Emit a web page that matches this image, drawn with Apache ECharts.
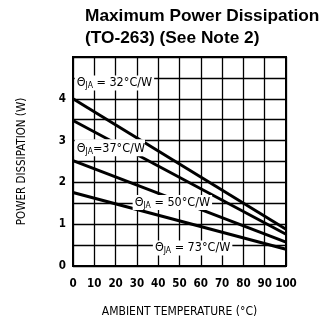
<!DOCTYPE html>
<html>
<head>
<meta charset="utf-8">
<script src="https://cdn.jsdelivr.net/npm/echarts@6/dist/echarts.min.js"></script>
<style>html,body{margin:0;padding:0;background:#fff}#c{width:334px;height:323px}</style>
</head>
<body>
<div id="c"></div>
<script>
// Data
const temps = [0, 100];                 // ambient temperature (°C) endpoints
const theta32 = [4.00, 0.88];           // power dissipation (W), θJA = 32°C/W
const theta37 = [3.48, 0.76];           // θJA = 37°C/W
const theta50 = [2.52, 0.57];           // θJA = 50°C/W
const theta73 = [1.76, 0.40];           // θJA = 73°C/W
const seriesNames = ['32°C/W', '37°C/W', '50°C/W', '73°C/W'];
const xTicks = [0, 10, 20, 30, 40, 50, 60, 70, 80, 90, 100];
const yTickLabels = [0, 1, 2, 3, 4];

const FONT = '"DejaVu Sans Condensed", "DejaVu Sans", sans-serif';
const pairs = vals => temps.map((t, i) => [t, vals[i]]);

const rich = {
  t: { fontFamily: FONT, fontSize: 12.5, color: '#000', lineHeight: 15 },
  s: { fontFamily: FONT, fontSize: 8.5, color: '#000', lineHeight: 9, verticalAlign: 'bottom' }
};
function lab(text, spaced) {
  return '{t|Θ}{s|JA}{t|' + (spaced ? ' = ' : '=') + text + '}';
}
function mp(coord, text, spaced, pad) {
  return {
    coord: coord, symbolSize: 0,
    label: { show: true, position: 'right', distance: 0, formatter: lab(text, spaced),
      backgroundColor: '#fff', padding: pad || [0, 2, 0, 2], rich: rich }
  };
}

const lineStyle = { color: '#000', width: 3 };
const mk = (name, vals) => ({
  name: name, type: 'line', data: pairs(vals), showSymbol: false, symbol: 'none',
  lineStyle: lineStyle, z: 3, animation: false
});

const chart = echarts.init(document.getElementById('c'), null, { renderer: 'canvas' });
chart.setOption({
  animation: false,
  title: {
    text: 'Maximum Power Dissipation\n(TO-263) (See Note 2)',
    left: 80, top: 0,
    textStyle: { fontFamily: '"Liberation Sans", Arial, sans-serif', fontWeight: 'bold', fontSize: 17.3, lineHeight: 22, color: '#000' }
  },
  grid: { left: 73, right: 48, top: 57, bottom: 53, show: true, borderColor: '#000', borderWidth: 2, backgroundColor: 'transparent' },
  xAxis: {
    type: 'value', min: 0, max: 100, interval: 10,
    name: 'AMBIENT TEMPERATURE (°C)', nameLocation: 'middle', nameGap: 40,
    nameTextStyle: { fontFamily: FONT, fontSize: 12, color: '#000' },
    axisLine: { show: true, lineStyle: { color: '#000', width: 2 } },
    axisTick: { show: false },
    axisLabel: { fontFamily: FONT, fontSize: 11.5, fontWeight: 'bold', color: '#000', margin: 12,
      formatter: v => xTicks.includes(v) ? String(v) : '' },
    splitLine: { show: true, lineStyle: { color: '#000', width: 1.3 } }
  },
  yAxis: {
    type: 'value', min: 0, max: 5, interval: 0.5,
    name: 'POWER DISSIPATION (W)', nameLocation: 'middle', nameGap: 45,
    nameTextStyle: { fontFamily: FONT, fontSize: 11.5, color: '#000' },
    axisLine: { show: true, lineStyle: { color: '#000', width: 2 } },
    axisTick: { show: false },
    axisLabel: { fontFamily: FONT, fontSize: 11.5, fontWeight: 'bold', color: '#000', margin: 7,
      formatter: v => yTickLabels.includes(v) ? String(v) : '' },
    splitLine: { show: true, lineStyle: { color: '#000', width: 1.3 } }
  },
  series: [
    mk(seriesNames[0], theta32),
    mk(seriesNames[1], theta37),
    mk(seriesNames[2], theta50),
    mk(seriesNames[3], theta73),
    { type: 'line', data: [], z: 10, markPoint: { z: 10, symbol: 'rect', data: [
        mp([0.8, 4.38], '32°C/W', true),
        mp([0.8, 2.83], '37°C/W', false, [2, 0, 0, 2]),
        mp([28, 1.52], '50°C/W', true),
        mp([37.5, 0.43], '73°C/W', true)
      ] } }
  ]
});
</script>
</body>
</html>
